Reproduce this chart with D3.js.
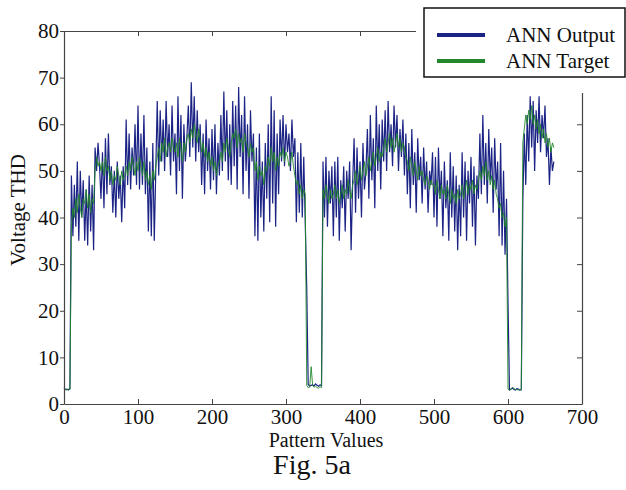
<!DOCTYPE html>
<html>
<head>
<meta charset="utf-8">
<script src="https://cdn.jsdelivr.net/npm/d3@7"></script>
<style>
  body { margin: 0; background: #fff; }
  .axis path, .axis line { stroke: #444; }
</style>
</head>
<body>
<div id="chart"></div>
<script>
// Fig. 5a — ANN output vs target, voltage THD per pattern (every 2nd pattern)

const patternStep = 2;
const xTicks = [0, 100, 200, 300, 400, 500, 600, 700];
const yTicks = [0, 10, 20, 30, 40, 50, 60, 70, 80];
const seriesNames = ["ANN Output", "ANN Target"];

// ANN Output, patterns 0,2,4,...,662
const annOutput = [
  // 0-8
  3.5, 3.1, 3.2, 3.0, 3.3,
  // 10-40
  49, 36, 47, 38, 52, 35, 50, 40, 48, 35, 46, 34, 49, 37, 47, 33,
  // 42-326
  55, 50, 56, 51,
  44, 54, 42, 57, 45, 58, 47,
  51, 41, 50, 40, 52, 44, 49, 39, 51, 42,
  61, 47, 58, 46, 55, 49, 60, 47,
  64, 46, 58, 47, 62, 45, 55,
  37, 52, 36, 56, 35, 50,
  65, 49, 63, 52, 61, 50, 65, 53, 60, 49, 64, 52,
  58, 45, 66, 50, 62, 44, 60, 52, 57,
  64, 53, 69, 55, 66, 52, 63, 54, 60,
  47, 58, 45, 61, 50, 57, 46, 59, 48, 60, 45, 56, 49,
  62, 50, 67, 52, 63, 48, 60, 47, 65,
  51, 64, 46, 68, 53, 62, 45, 66, 50, 60, 44, 63, 52, 58,
  36, 55, 35, 58, 40, 52, 37, 56, 44,
  60, 39, 66, 43, 63, 38, 58, 45, 61,
  52, 62, 51, 60, 54, 58, 50, 61, 53,
  57, 39, 54, 41, 56, 40, 53, 39,
  // 328-348
  25, 4.2, 3.8, 4.0, 4.1, 3.9, 4.3, 4.0, 3.8, 4.1, 4.0,
  // 350-598
  52, 40, 53, 38, 50, 43, 51,
  36, 52, 40, 53, 35, 48, 42, 51, 37, 50, 44, 52, 33, 47,
  57, 41, 55, 44, 52, 40, 56, 46, 50,
  59, 44, 62, 48, 57, 42, 64, 50, 60, 46, 61,
  52, 63, 50, 65, 54, 60, 51, 64, 55, 62, 50, 59, 53, 61, 49, 58,
  45, 56, 42, 59, 47, 54, 41, 57, 48, 53, 43, 55, 46, 52, 41, 50, 47, 54,
  40, 53, 38, 55, 44, 50, 36, 52, 42, 48, 35, 54, 40, 51, 37, 49, 33, 47,
  36, 54, 40, 52, 35, 50, 43, 53, 38, 51, 34, 49, 44,
  58, 45, 62, 47, 56, 43, 59, 48, 55, 41, 57, 46,
  52, 36, 56, 34, 50, 32, 44,
  // 600-618
  22, 3.0, 3.2, 3.4, 3.1, 3.0, 3.3, 3.2, 3.0, 3.1,
  // 620-662
  43, 58, 47, 62, 52, 66, 55, 65, 50, 63, 56, 66, 54, 62, 57, 64, 53, 57, 47, 55, 50, 52
];

// ANN Target, same patterns
const annTarget = [
  3.0, 3.1, 3.0, 3.2, 3.1,
  38, 42, 40, 44, 41, 45, 42, 40, 44, 43, 46, 42, 45, 41, 44, 43,
  50, 53, 51, 52,
  50, 52, 49, 53, 50, 51, 48,
  50, 47, 49, 48, 51, 49, 47, 50, 48, 49,
  51, 49, 52, 50, 53, 51, 49, 52,
  50, 53, 51, 49, 52, 48, 50,
  47, 49, 46, 50, 48, 51,
  53, 55, 52, 56, 54, 57, 53, 55, 56, 54, 57, 55,
  54, 56, 53, 57, 55, 52, 56, 54, 57,
  58, 56, 59, 57, 60, 58, 56, 59, 57,
  54, 56, 53, 55, 52, 54, 51, 53, 50, 52, 49, 51, 52,
  54, 52, 56, 54, 57, 55, 53, 56, 58,
  57, 59, 55, 58, 56, 57, 54, 58, 56, 55, 53, 56, 54, 55,
  50, 52, 48, 51, 49, 50, 47, 51, 50,
  53, 51, 55, 52, 54, 50, 53, 51, 54,
  53, 55, 52, 54, 53, 51, 52, 54, 51,
  49, 47, 48, 45, 47, 44, 46, 45,
  4.0, 3.5, 3.6, 8.0, 4.0, 3.6, 3.8, 3.5, 3.4, 3.7, 3.5,
  46, 44, 47, 45, 43, 46, 44,
  45, 47, 44, 46, 43, 45, 47, 44, 46, 45, 48, 46, 44, 47,
  48, 50, 47, 49, 51, 48, 50, 52, 49,
  51, 53, 50, 52, 54, 51, 53, 55, 52, 54, 53,
  55, 57, 54, 56, 58, 55, 57, 54, 56, 58, 55, 57, 54, 56, 55, 53,
  52, 50, 53, 51, 49, 52, 50, 48, 51, 49, 50, 48, 47, 49, 48, 46, 48, 47,
  47, 45, 48, 46, 44, 47, 45, 46, 44, 47, 45, 43, 46, 44, 45, 43, 46, 44,
  45, 47, 44, 46, 48, 45, 47, 46, 48, 45, 47, 46, 48,
  50, 48, 51, 49, 52, 48, 50, 47, 49, 46, 48, 45,
  44, 42, 43, 40, 41, 38, 40,
  3.2, 3.0, 3.1, 3.6, 3.4, 3.0, 3.1, 3.0, 3.1, 3.0,
  56, 59, 62, 60, 63, 61, 64, 60, 62, 59, 61, 58, 60, 57, 59, 56, 58, 55, 57, 54, 56, 55
];

const W = 626, H = 490;
const plot = { left: 64, right: 582, top: 31, bottom: 404 };
const serif = "Liberation Serif";

const svg = d3.select("#chart").append("svg")
  .attr("width", W)
  .attr("height", H)
  .attr("viewBox", `0 0 ${W} ${H}`);

const x = d3.scaleLinear().domain([0, 700]).range([plot.left, plot.right]);
const y = d3.scaleLinear().domain([0, 80]).range([plot.bottom, plot.top]);

const colors = { "ANN Output": "#1b2385", "ANN Target": "#23882b" };

// data lines (output first, target drawn over it)
const line = d3.line()
  .x((d, i) => x(i * patternStep))
  .y(d => y(d));

svg.append("path")
  .datum(annOutput)
  .attr("fill", "none")
  .attr("stroke", colors["ANN Output"])
  .attr("stroke-width", 1.2)
  .attr("d", line);

svg.append("path")
  .datum(annTarget)
  .attr("fill", "none")
  .attr("stroke", colors["ANN Target"])
  .attr("stroke-width", 0.9)
  .attr("d", line);

// axes box, ticks inside like matlab except left
const bottomAxis = svg.append("g").attr("class", "axis")
  .attr("transform", `translate(0,${plot.bottom})`)
  .call(d3.axisBottom(x).tickValues(xTicks).tickSizeInner(-5).tickSizeOuter(0).tickPadding(5));

const leftAxis = svg.append("g").attr("class", "axis")
  .attr("transform", `translate(${plot.left},0)`)
  .call(d3.axisLeft(y).tickValues(yTicks).tickSizeInner(4).tickSizeOuter(0).tickPadding(1));

[bottomAxis, leftAxis].forEach(a => a.selectAll("text")
  .style("font-family", serif)
  .style("font-size", "21px")
  .attr("fill", "#111"));

svg.append("g").attr("class", "axis")
  .attr("transform", `translate(0,${plot.top})`)
  .call(d3.axisTop(x).tickValues(xTicks).tickSizeInner(-5).tickSizeOuter(0).tickFormat(""));

svg.append("g").attr("class", "axis")
  .attr("transform", `translate(${plot.right},0)`)
  .call(d3.axisRight(y).tickValues(yTicks).tickSizeInner(-5).tickSizeOuter(0).tickFormat(""));

svg.selectAll(".axis path").attr("stroke-width", 1.2);

// axis titles
function label(txt, size) {
  return svg.append("text")
    .style("font-family", serif)
    .style("font-size", size + "px")
    .attr("fill", "#111")
    .attr("text-anchor", "middle")
    .text(txt);
}

label("Pattern Values", 20).attr("x", 326).attr("y", 447);
label("Voltage THD", 21).attr("transform", "translate(25,210) rotate(-90)");
label("Fig. 5a", 28).attr("x", 312).attr("y", 474);

// legend — white patch hides the corner of the axes box
svg.append("rect")
  .attr("x", 416).attr("y", 0)
  .attr("width", W - 416).attr("height", 93)
  .attr("fill", "#fff");

const legendG = svg.append("g").attr("transform", "translate(424,8)");
legendG.append("rect")
  .attr("width", 201)
  .attr("height", 69)
  .attr("fill", "#fff")
  .attr("stroke", "#111")
  .attr("stroke-width", 1.5);

seriesNames.forEach((name, i) => {
  const g = legendG.append("g").attr("transform", `translate(0,${27 + i * 26})`);
  g.append("line")
    .attr("x1", 13).attr("x2", 61)
    .attr("stroke", colors[name])
    .attr("stroke-width", 4);
  g.append("text")
    .attr("x", 82)
    .attr("dy", "0.35em")
    .style("font-family", serif)
    .style("font-size", "21px")
    .attr("fill", "#111")
    .text(name);
});
</script>
</body>
</html>
